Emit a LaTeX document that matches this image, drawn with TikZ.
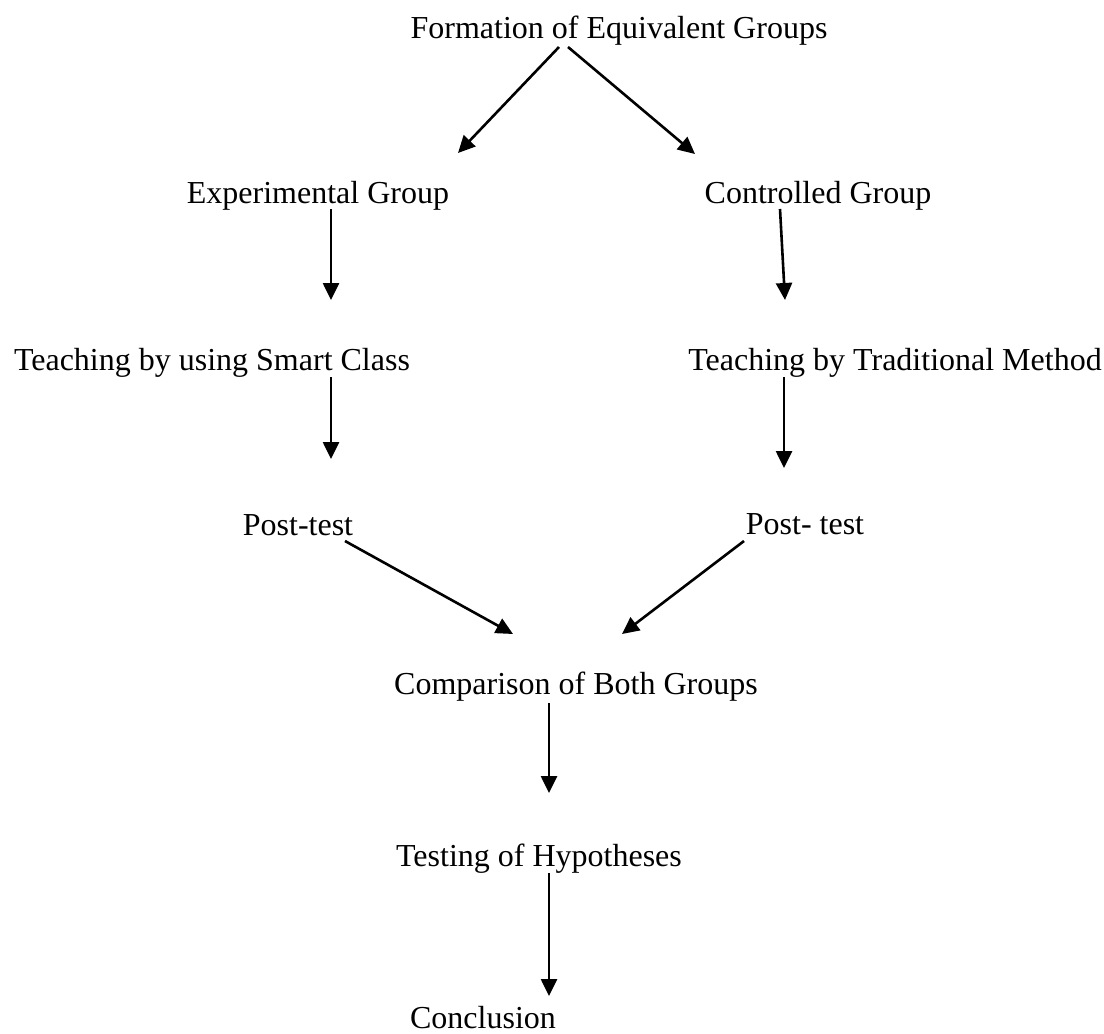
\documentclass[tikz,border=0pt]{standalone}
\usepackage{fontspec}
\setmainfont{Liberation Serif}
\usetikzlibrary{arrows.meta,calc}
\tikzset{
  lbl/.style={inner sep=0pt, anchor=base, font=\fontsize{16}{19}\selectfont},
  arr/.style={line width=1.3pt, -{Triangle[length=8.5pt,width=8pt]}}
}
\begin{document}
\begin{tikzpicture}[x=0.5pt, y=-0.5pt]
    \useasboundingbox (0,0) rectangle (1104,1034);
    \node[lbl] (form) at (619,38) {Formation of Equivalent Groups};
    \node[lbl] (exp) at (318,203) {Experimental Group};
    \node[lbl] (ctrl) at (818,203) {Controlled Group};
    \node[lbl] (smart) at (212,370) {Teaching by using Smart Class};
    \node[lbl] (trad) at (895,370) {Teaching by Traditional Method};
    \node[lbl] (postl) at (298,535) {Post-test};
    \node[lbl] (postr) at (805,534) {Post- test};
    \node[lbl] (comp) at (576,694) {Comparison of Both Groups};
    \node[lbl] (test) at (539,866) {Testing of Hypotheses};
    \node[lbl] (concl) at (483,1028) {Conclusion};
    \draw[arr] ($(form.base)+(-60,9)$) -- ($(exp.base)+(140,-50)$);
    \draw[arr] ($(form.base)+(-51,9)$) -- ($(ctrl.base)+(-123,-49)$);
    \draw[arr] ($(exp.base)+(13,6)$) -- ($(smart.base)+(119,-70)$);
    \draw[arr] ($(ctrl.base)+(-38,6)$) -- ($(trad.base)+(-110,-70)$);
    \draw[arr] ($(smart.base)+(119,7)$) -- ($(postl.base)+(33,-76)$);
    \draw[arr] ($(trad.base)+(-111,7)$) -- ($(postr.base)+(-21,-66)$);
    \draw[arr] ($(postl.base)+(47,6)$) -- ($(comp.base)+(-63,-60)$);
    \draw[arr] ($(postr.base)+(-61,7)$) -- ($(comp.base)+(46,-60)$);
    \draw[arr] ($(comp.base)+(-27,9)$) -- ($(test.base)+(10,-73)$);
    \draw[arr] ($(test.base)+(10,7)$) -- ($(concl.base)+(66,-32)$);
\end{tikzpicture}
\end{document}
